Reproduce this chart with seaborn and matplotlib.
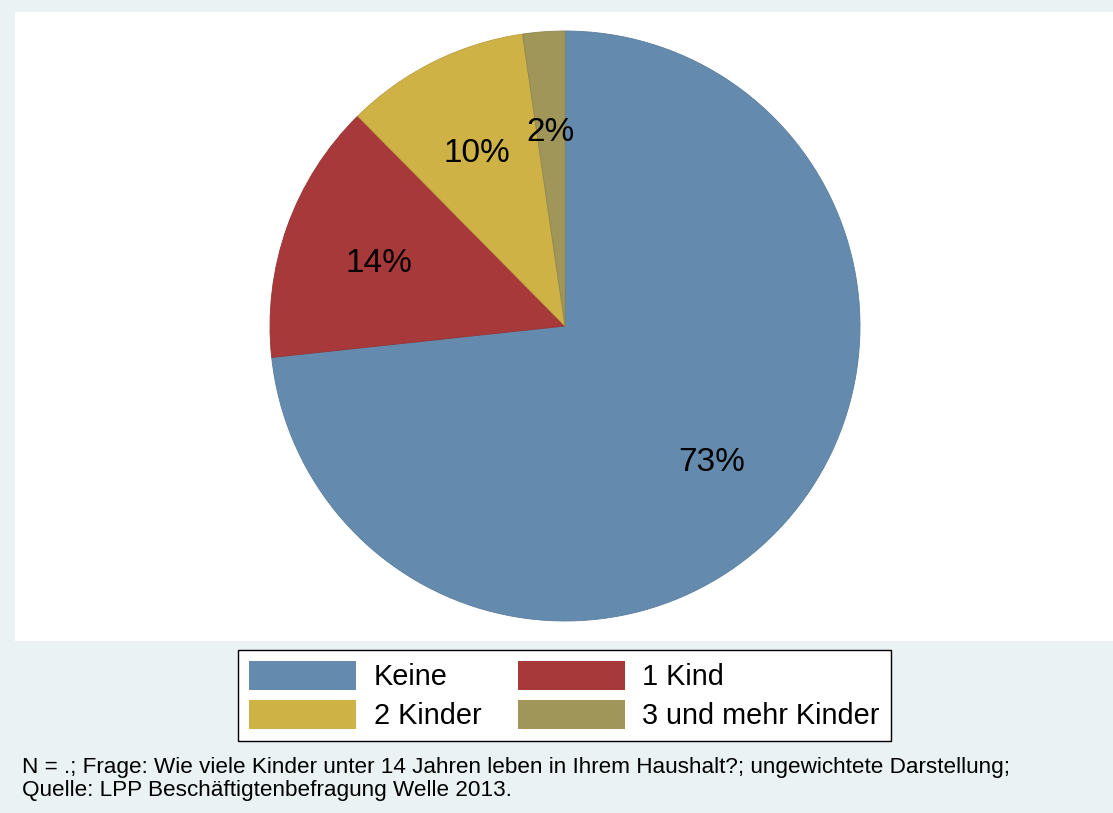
import matplotlib
matplotlib.use("Agg")
import matplotlib.pyplot as plt
import matplotlib.patches as mpatches
import seaborn as sns

# Data (share of households, percent)
categories = ['Keine', '1 Kind', '2 Kinder', '3 und mehr Kinder']
shares = [73.3, 14.3, 10.1, 2.3]
labels_pct = ['73%', '14%', '10%', '2%']
colors = ['#648BAE', '#A8393A', '#CEB245', '#A0965A']
edge_colors = ['#5A7D9D', '#973334', '#B9A03E', '#908751']

note_lines = [
    'N = .; Frage: Wie viele Kinder unter 14 Jahren leben in Ihrem Haushalt?; ungewichtete Darstellung;',
    'Quelle: LPP Beschäftigtenbefragung Welle 2013.',
]

sns.set_style("white")
plt.rcParams['font.family'] = ['Liberation Sans', 'DejaVu Sans']
plt.rcParams['text.color'] = 'black'
palette = sns.color_palette(colors)

W, H = 1113, 813
fig = plt.figure(figsize=(W / 100, H / 100), dpi=100)
fig.patch.set_facecolor('#EAF2F3')

# white plot region
fig.patches.append(mpatches.Rectangle((15 / W, 1 - 641 / H), (W - 15) / W, (641 - 12) / H,
                                      transform=fig.transFigure, facecolor='white',
                                      edgecolor='none', zorder=-5))

# pie axes: centre (565, 326), radius 295 px
r = 295
ax = fig.add_axes([(565 - r) / W, 1 - (326 + r) / H, 2 * r / W, 2 * r / H])
ax.set_zorder(2)
wedges, texts = ax.pie(shares, labels=labels_pct, colors=palette, startangle=90,
                       counterclock=False, labeldistance=0.67,
                       wedgeprops=dict(linewidth=0.6),
                       textprops=dict(fontsize=24, ha='center', va='center', color='black'))
for w, ec in zip(wedges, edge_colors):
    w.set_edgecolor(ec)
# labels sit a few pixels lower in the original
for t in texts:
    x, y = t.get_position()
    t.set_position((x, y - 4 / r))
ax.set_xlim(-1, 1)
ax.set_ylim(-1, 1)
ax.set_aspect('auto')
ax.axis('off')

# legend, filled row by row like the original
handles = [mpatches.Patch(facecolor=c, edgecolor='none') for c in palette]
order = [0, 2, 1, 3]
leg = fig.legend([handles[i] for i in order], [categories[i] for i in order],
                 ncol=2, loc='upper center',
                 bbox_to_anchor=(564.5 / W, 1 - 650 / H), fontsize=20.8,
                 frameon=True, fancybox=False, edgecolor='black', framealpha=1,
                 handlelength=3.7, handleheight=1.15, handletextpad=0.62,
                 columnspacing=1.25, labelspacing=0.32, borderpad=0.38,
                 borderaxespad=0)
leg.get_frame().set_linewidth(1.0)
leg.get_frame().set_facecolor('white')
for t in leg.get_texts():
    t.set_color('black')

fig.text(22 / W, 1 - 767 / H, note_lines[0], fontsize=16.2, va='center', ha='left')
fig.text(22 / W, 1 - 790 / H, note_lines[1], fontsize=16.2, va='center', ha='left')

fig.savefig('out.png', dpi=100, facecolor=fig.get_facecolor())
